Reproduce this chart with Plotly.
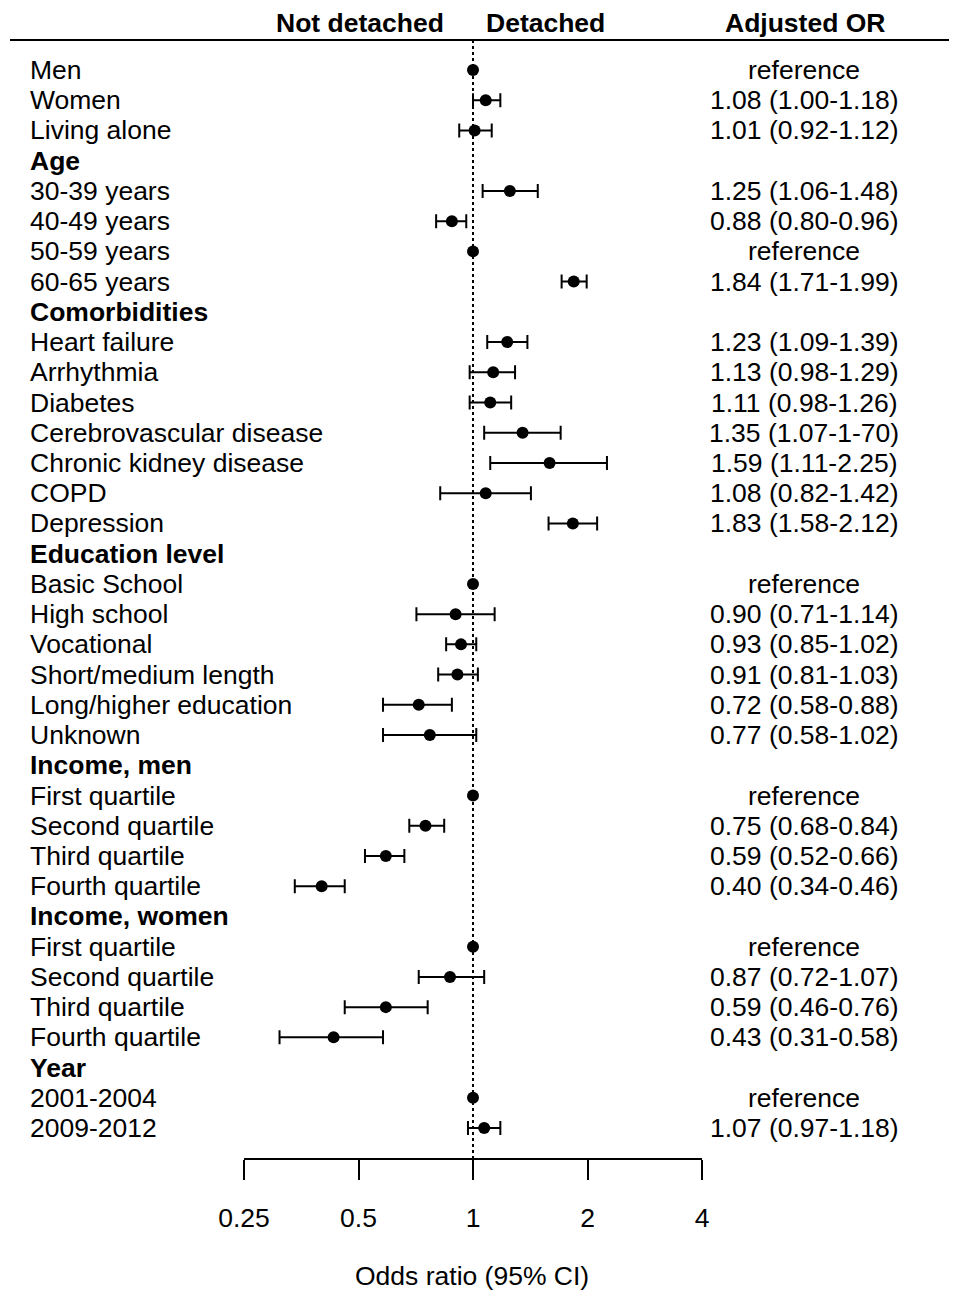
import plotly.graph_objects as go

labels = ["Men", "Women", "Living alone", "Age", "30-39 years", "40-49 years", "50-59 years",
          "60-65 years", "Comorbidities", "Heart failure", "Arrhythmia", "Diabetes",
          "Cerebrovascular disease", "Chronic kidney disease", "COPD", "Depression",
          "Education level", "Basic School", "High school", "Vocational", "Short/medium length",
          "Long/higher education", "Unknown", "Income, men", "First quartile", "Second quartile",
          "Third quartile", "Fourth quartile", "Income, women", "First quartile",
          "Second quartile", "Third quartile", "Fourth quartile", "Year", "2001-2004", "2009-2012"]
is_header = [False, False, False, True, False, False, False, False, True, False, False, False,
             False, False, False, False, True, False, False, False, False, False, False, True,
             False, False, False, False, True, False, False, False, False, True, False, False]
is_ref = [True, False, False, False, False, False, True, False, False, False, False, False,
          False, False, False, False, False, True, False, False, False, False, False, False,
          True, False, False, False, False, True, False, False, False, False, True, False]
or_vals = [1.00, 1.08, 1.01, None, 1.25, 0.88, 1.00, 1.84, None, 1.23, 1.13, 1.11, 1.35, 1.59,
           1.08, 1.83, None, 1.00, 0.90, 0.93, 0.91, 0.72, 0.77, None, 1.00, 0.75, 0.59, 0.40,
           None, 1.00, 0.87, 0.59, 0.43, None, 1.00, 1.07]
ci_lo = [None, 1.00, 0.92, None, 1.06, 0.80, None, 1.71, None, 1.09, 0.98, 0.98, 1.07, 1.11,
         0.82, 1.58, None, None, 0.71, 0.85, 0.81, 0.58, 0.58, None, None, 0.68, 0.52, 0.34,
         None, None, 0.72, 0.46, 0.31, None, None, 0.97]
ci_hi = [None, 1.18, 1.12, None, 1.48, 0.96, None, 1.99, None, 1.39, 1.29, 1.26, 1.70, 2.25,
         1.42, 2.12, None, None, 1.14, 1.02, 1.03, 0.88, 1.02, None, None, 0.84, 0.66, 0.46,
         None, None, 1.07, 0.76, 0.58, None, None, 1.18]
or_text = ["reference", "1.08 (1.00-1.18)", "1.01 (0.92-1.12)", "", "1.25 (1.06-1.48)",
           "0.88 (0.80-0.96)", "reference", "1.84 (1.71-1.99)", "", "1.23 (1.09-1.39)",
           "1.13 (0.98-1.29)", "1.11 (0.98-1.26)", "1.35 (1.07-1-70)", "1.59 (1.11-2.25)",
           "1.08 (0.82-1.42)", "1.83 (1.58-2.12)", "", "reference", "0.90 (0.71-1.14)",
           "0.93 (0.85-1.02)", "0.91 (0.81-1.03)", "0.72 (0.58-0.88)", "0.77 (0.58-1.02)", "",
           "reference", "0.75 (0.68-0.84)", "0.59 (0.52-0.66)", "0.40 (0.34-0.46)", "",
           "reference", "0.87 (0.72-1.07)", "0.59 (0.46-0.76)", "0.43 (0.31-0.58)", "",
           "reference", "1.07 (0.97-1.18)"]
tick_vals = [0.25, 0.5, 1, 2, 4]
tick_text = ["0.25", "0.5", "1", "2", "4"]

W, H = 957, 1291
OFF = 8  # page body margin offset
FONT = "Liberation Sans, Arial, sans-serif"
FS = 26.5


def px(p):
    return (p - OFF) / W


def py(p):
    return 1 - (p - OFF) / H


# pixel layout (target screen pixels)
row0_px, row_step = 70, 30.23
axis_px = 1158
slope = 1.0 / row_step
top_px = OFF
t_val = -(row0_px - top_px) * slope
b_val = t_val + (axis_px - top_px) * slope

rows = list(range(len(labels)))
est_y = [i for i in rows if or_vals[i] is not None and not is_ref[i]]
est_x = [or_vals[i] for i in est_y]
err_p = [ci_hi[i] - or_vals[i] for i in est_y]
err_m = [or_vals[i] - ci_lo[i] for i in est_y]
ref_y = [i for i in rows if is_ref[i]]
ref_x = [or_vals[i] for i in ref_y]

fig = go.Figure()
fig.add_trace(go.Scatter(
    x=est_x, y=est_y, mode="markers",
    marker=dict(size=12, color="black"),
    error_x=dict(type="data", symmetric=False, array=err_p, arrayminus=err_m,
                 color="black", thickness=2, width=7),
    showlegend=False, hoverinfo="skip"))
fig.add_trace(go.Scatter(
    x=ref_x, y=ref_y, mode="markers",
    marker=dict(size=12, color="black"),
    showlegend=False, hoverinfo="skip"))

ann = []
for i in rows:
    lab = labels[i]
    ann.append(dict(x=px(28), xref="paper", y=i, yref="y", xanchor="left", yanchor="middle",
                    text=("<b>%s</b>" % lab) if is_header[i] else lab, showarrow=False,
                    font=dict(family=FONT, size=FS, color="black")))
    if or_text[i]:
        ann.append(dict(x=px(804), xref="paper", y=i, yref="y", xanchor="center",
                        yanchor="middle", text=or_text[i], showarrow=False,
                        font=dict(family=FONT, size=FS, color="black")))

hdr_y = py(23)
ann += [
    dict(x=px(446), xref="paper", y=hdr_y, yref="paper", xanchor="right", yanchor="middle",
         text="<b>Not detached</b>", showarrow=False, font=dict(family=FONT, size=FS, color="black")),
    dict(x=px(484), xref="paper", y=hdr_y, yref="paper", xanchor="left", yanchor="middle",
         text="<b>Detached</b>", showarrow=False, font=dict(family=FONT, size=FS, color="black")),
    dict(x=px(805), xref="paper", y=hdr_y, yref="paper", xanchor="center", yanchor="middle",
         text="<b>Adjusted OR</b>", showarrow=False, font=dict(family=FONT, size=FS, color="black")),
    dict(x=px(472), xref="paper", y=py(1276), yref="paper", xanchor="center",
         yanchor="middle", text="Odds ratio (95% CI)", showarrow=False,
         font=dict(family=FONT, size=FS, color="black")),
]

shapes = [
    dict(type="line", xref="paper", yref="paper", x0=px(10), x1=px(965), y0=py(40), y1=py(40),
         line=dict(color="black", width=2)),
    dict(type="line", xref="x", yref="paper", x0=1, x1=1, y0=py(40), y1=py(axis_px),
         line=dict(color="black", width=2, dash="dot"), layer="below"),
]

fig.update_layout(
    width=W, height=H, margin=dict(l=0, r=0, t=0, b=0, autoexpand=False),
    paper_bgcolor="white", plot_bgcolor="white",
    annotations=ann, shapes=shapes,
    xaxis=dict(type="log", domain=[px(244), px(702)], range=[-0.60206, 0.60206],
               tickvals=tick_vals, ticktext=tick_text, showgrid=False, zeroline=False,
               showline=True, linecolor="black", linewidth=2, ticks="outside", ticklen=20,
               tickwidth=2, tickcolor="black", ticklabelstandoff=15, automargin=False,
               tickfont=dict(family=FONT, size=FS, color="black")),
    yaxis=dict(domain=[py(axis_px), 1], range=[b_val, t_val], visible=False,
               showgrid=False, zeroline=False, automargin=False),
)

fig.write_html("out.html")
